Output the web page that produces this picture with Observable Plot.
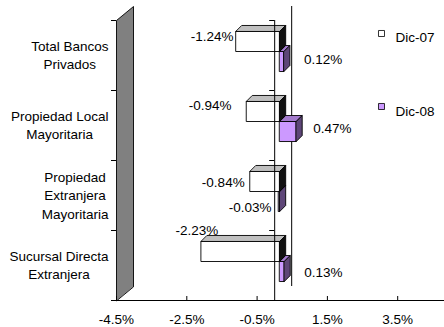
<!DOCTYPE html>
<html>
<head>
<meta charset="utf-8">
<script src="https://cdn.jsdelivr.net/npm/d3@7"></script>
<script src="https://cdn.jsdelivr.net/npm/@observablehq/plot@0.6"></script>
<style>
  body { margin: 0; background: #fff; }
</style>
</head>
<body>
<div id="chart"></div>
<script>
// Variación por tipo de propiedad, Dic-07 vs Dic-08 (%)
const categories = [
  "Total Bancos\nPrivados",
  "Propiedad Local\nMayoritaria",
  "Propiedad\nExtranjera\nMayoritaria",
  "Sucursal Directa\nExtranjera"
];
const seriesNames = ["Dic-07", "Dic-08"];
const dic07 = [-1.24, -0.94, -0.84, -2.23];
const dic08 = [0.12, 0.47, -0.03, 0.13];
const xTicks = [-4.5, -2.5, -0.5, 1.5, 3.5];

// ---- layout (pixels) ----
const W = 444, H = 327;
const frameLeft = 116, frameRight = 467.5, frameTop = 20, frameBottom = 300;
const xDomain = [-4.5, 5.5];
const kx = (frameRight - frameLeft) / (xDomain[1] - xDomain[0]); // px per %
const ky = (frameBottom - frameTop) / categories.length;          // px per category
const wallDepth = [17, -14];   // oblique offset of the back plane
const barFront = [5, -4];      // oblique offset of bar front faces
const barBack = [11, -10];     // oblique offset of bar back faces
const gapFrac = 0.214, slotFrac = 0.286;
const font = "'Liberation Sans', Arial, sans-serif";
const fontSize = 13.5;

const colors = {
  "Dic-07": {front: "#ffffff", top: "#c0c0c0", side: "#111111"},
  "Dic-08": {front: "#cc99ff", top: "#a37acc", side: "#5e4678"}
};

// label nudges in px, per bar
const labelNudge07 = [[-2.5, -2], [-15, -3], [-5.5, 4], [17, -18]];
const labelNudge08 = [[14, 1], [11, 0], [-7, 9], [14, 4]];

// shift a data point by a pixel offset
const off = ([px, py]) => (x, y) => ({x: x + px / kx, y: y + py / ky});
const F = off(barFront), B = off(barBack), D = off(wallDepth);

function barFaces(values, s) {
  const faces = {front: [], top: [], side: []};
  values.forEach((v, i) => {
    const y0 = i + gapFrac + s * slotFrac, y1 = y0 + slotFrac;
    const xl = Math.min(0, v), xr = Math.max(0, v);
    const id = `${s}-${i}`;
    const tag = p => ({...p, id});
    faces.front.push(...[F(xl, y0), F(xr, y0), F(xr, y1), F(xl, y1)].map(tag));
    faces.top.push(...[F(xl, y0), F(xr, y0), B(xr, y0), B(xl, y0)].map(tag));
    faces.side.push(...[F(xr, y0), B(xr, y0), B(xr, y1), F(xr, y1)].map(tag));
  });
  return faces;
}

const poly = (data, fill) => Plot.line(data, {
  x: "x", y: "y", z: "id", fill, stroke: "#000", strokeWidth: 0.9,
  curve: "linear-closed", strokeLinejoin: "miter"
});

const faces07 = barFaces(dic07, 0);
const faces08 = barFaces(dic08, 1);

const wall = [{x: xDomain[0], y: 4}, {x: xDomain[0], y: 0}, D(xDomain[0], 0), D(xDomain[0], 4)]
  .map(p => ({...p, id: "wall"}));

// value labels
const midDy = (barFront[1] + barBack[1]) / 2;
function valueLabels(values, s, nudges) {
  return values.map((v, i) => {
    const yc = i + gapFrac + s * slotFrac + slotFrac / 2;
    const anchor = v < 0 ? F(v, yc) : B(v, yc);
    const [nx, ny] = nudges[i];
    return {
      text: `${v.toFixed(2)}%`,
      neg: v < 0,
      x: anchor.x + nx / kx,
      y: yc + (midDy + ny) / ky
    };
  });
}
const labels = [
  ...valueLabels(dic07, 0, labelNudge07),
  ...valueLabels(dic08, 1, labelNudge08)
];

// category labels: lines centred within a block right-aligned to the axis
const ctx = document.createElement("canvas").getContext("2d");
ctx.font = `${fontSize}px ${font}`;
const catLabels = categories.map((c, i) => {
  const w = Math.max(...c.split("\n").map(l => ctx.measureText(l).width));
  return {text: c, x: xDomain[0] - (8 + w / 2) / kx, y: i + 0.5 - 1 / ky};
});

const legendMarks = seriesNames.flatMap((name, s) => [
  Plot.dot([name], {
    frameAnchor: "top-left", dx: 265, dy: 13 + s * 73,
    symbol: "square", r: 3.4, fill: colors[name].front, stroke: "#000", strokeWidth: 0.8
  }),
  Plot.text([name], {
    frameAnchor: "top-left", dx: 279, dy: 12 + s * 74,
    text: d => d, textAnchor: "start", fill: "#000"
  })
]);

const chart = Plot.plot({
  width: W,
  height: H,
  marginLeft: frameLeft,
  marginRight: 0,
  marginTop: frameTop,
  marginBottom: H - frameBottom,
  style: {fontFamily: font, fontSize: `${fontSize}px`, background: "#fff", color: "#000"},
  x: {domain: xDomain, range: [frameLeft, frameRight], label: null},
  y: {domain: [0, categories.length], range: [frameTop, frameBottom], axis: null},
  marks: [
    // side wall and back zero line
    poly(wall, "#808080"),
    Plot.ruleX([D(0, 0).x], {y1: D(0, 0).y, y2: D(0, 4).y, stroke: "#000", strokeWidth: 1}),
    // Dic-08 boxes, then Dic-07 boxes in front of them
    poly(faces08.front, colors["Dic-08"].front),
    poly(faces08.top, colors["Dic-08"].top),
    poly(faces08.side, colors["Dic-08"].side),
    poly(faces07.front, colors["Dic-07"].front),
    poly(faces07.top, colors["Dic-07"].top),
    poly(faces07.side, colors["Dic-07"].side),
    // category axis at zero with its ticks
    Plot.ruleX([0], {y1: 0, y2: 4, stroke: "#000", strokeWidth: 1}),
    Plot.ruleY([0, 1, 2, 3], {x1: -5 / kx, x2: 0, stroke: "#000", strokeWidth: 1}),
    // left edge ticks
    Plot.ruleY([0, 1, 2, 3, 4], {x1: xDomain[0] - 5 / kx, x2: xDomain[0], stroke: "#000", strokeWidth: 1}),
    // value axis
    Plot.ruleY([4], {x1: xDomain[0], x2: xDomain[1], stroke: "#000", strokeWidth: 1}),
    Plot.ruleX(xTicks, {y1: 4, y2: 4 - 4 / ky, stroke: "#000", strokeWidth: 1}),
    Plot.axisX({ticks: xTicks, tickFormat: d => `${d}%`, tickSize: 0, tickPadding: 14, label: null, fill: "#000"}),
    // category labels
    Plot.text(catLabels, {x: "x", y: "y", text: "text", textAnchor: "middle", lineHeight: 1.35, fill: "#000"}),
    // value labels
    Plot.text(labels.filter(d => d.neg), {x: "x", y: "y", text: "text", textAnchor: "end", fill: "#000"}),
    Plot.text(labels.filter(d => !d.neg), {x: "x", y: "y", text: "text", textAnchor: "start", fill: "#000"}),
    ...legendMarks
  ]
});

document.getElementById("chart").append(chart);
</script>
</body>
</html>
